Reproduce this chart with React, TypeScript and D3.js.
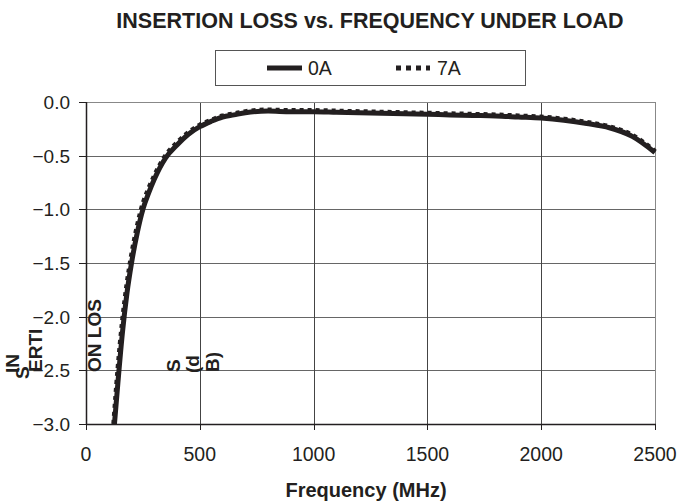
import React from "react";
import * as d3 from "d3";

const title = "INSERTION LOSS vs. FREQUENCY UNDER LOAD";
const xLabel = "Frequency (MHz)";
const seriesNames = ["0A", "7A"];
const xTicks = [0, 500, 1000, 1500, 2000, 2500];
const yTicks = [0, -0.5, -1.0, -1.5, -2.0, -2.5, -3.0];

const freq0A = [125, 140, 160, 180, 200, 225, 250, 275, 300, 350, 400, 450, 500, 550, 600, 650, 700, 800, 900, 1000, 1100, 1200, 1300, 1400, 1500, 1600, 1700, 1800, 1900, 2000, 2100, 2200, 2300, 2400, 2500];
const loss0A = [-3.0, -2.62, -2.15, -1.78, -1.5, -1.22, -1.0, -0.85, -0.72, -0.52, -0.4, -0.3, -0.23, -0.18, -0.14, -0.12, -0.1, -0.085, -0.09, -0.09, -0.095, -0.1, -0.105, -0.11, -0.115, -0.12, -0.125, -0.13, -0.14, -0.15, -0.17, -0.2, -0.24, -0.32, -0.47];
const freq7A = [122, 140, 160, 180, 200, 225, 250, 275, 300, 350, 400, 450, 500, 550, 600, 650, 700, 800, 900, 1000, 1100, 1200, 1300, 1400, 1500, 1600, 1700, 1800, 1900, 2000, 2100, 2200, 2300, 2400, 2500];
const loss7A = [-3.0, -2.5, -2.05, -1.7, -1.43, -1.16, -0.95, -0.81, -0.69, -0.5, -0.38, -0.285, -0.215, -0.17, -0.13, -0.11, -0.09, -0.075, -0.08, -0.08, -0.085, -0.09, -0.095, -0.1, -0.105, -0.11, -0.115, -0.12, -0.13, -0.14, -0.16, -0.19, -0.23, -0.31, -0.46];

// broken y-axis title fragments as they appear in the reference
const yLabelParts = ["IN", "S", "ERTI", "ON LOS", "S", "(d", "B)"];
const yLabelPos: [number, number][] = [[19, 373], [29, 379], [42, 372], [101, 372], [180, 372], [199, 373], [219, 372]];

const W = 679, H = 502;
const L = 86, R = 655, T = 102, B = 424;
const FONT = "'Liberation Sans', Arial, sans-serif";
const INK = "#231f20";

export default function App() {
  const x = d3.scaleLinear().domain([0, 2500]).range([L, R]);
  const y = d3.scaleLinear().domain([-3, 0]).range([B, T]);
  const line = d3.line<[number, number]>().x(d => x(d[0])).y(d => y(d[1])).curve(d3.curveMonotoneX);
  const d0 = line(freq0A.map((f, i) => [f, loss0A[i]]))!;
  const d7 = line(freq7A.map((f, i) => [f, loss7A[i]]))!;

  return (
    <svg width={W} height={H} style={{ position: "absolute", left: 0, top: 0, background: "#fff" }} fontFamily={FONT}>
      <defs>
        <clipPath id="plot"><rect x={L} y={T - 3} width={R - L + 3} height={B - T + 3} /></clipPath>
      </defs>
      <text x={370} y={28} textAnchor="middle" fontSize={21.5} fontWeight="bold" fill={INK}>{title}</text>

      {/* legend */}
      <rect x={215.5} y={50.5} width={310} height={35} fill="#fff" stroke="#555" strokeWidth={1} />
      <line x1={267} x2={302} y1={68} y2={68} stroke={INK} strokeWidth={5} />
      <text x={308} y={75} fontSize={19.5} fill={INK}>{seriesNames[0]}</text>
      <line x1={396} x2={430} y1={68} y2={68} stroke={INK} strokeWidth={5} strokeDasharray="5,5" />
      <text x={437} y={75} fontSize={19.5} fill={INK}>{seriesNames[1]}</text>

      {/* grid */}
      {yTicks.map(t => (
        <line key={"gy" + t} x1={L} x2={R} y1={Math.round(y(t)) + 0.5} y2={Math.round(y(t)) + 0.5} stroke="#666" strokeWidth={1} />
      ))}
      {xTicks.map(t => (
        <line key={"gx" + t} x1={Math.round(x(t)) + 0.5} x2={Math.round(x(t)) + 0.5} y1={T} y2={B} stroke="#444" strokeWidth={1} />
      ))}
      <line x1={R + 0.5} x2={R + 0.5} y1={T} y2={B} stroke="#888" />
      <line x1={L} x2={R} y1={T + 0.5} y2={T + 0.5} stroke="#888" />
      {/* axes */}
      <line x1={L + 0.5} x2={L + 0.5} y1={T} y2={B + 1} stroke={INK} strokeWidth={1.5} />
      <line x1={L} x2={R + 1} y1={B + 0.5} y2={B + 0.5} stroke={INK} strokeWidth={1.5} />
      {yTicks.map(t => (
        <g key={"ty" + t}>
          <line x1={L - 7} x2={L} y1={Math.round(y(t)) + 0.5} y2={Math.round(y(t)) + 0.5} stroke={INK} />
          <text x={70} y={y(t) + 7} textAnchor="end" fontSize={19} fill={INK}>{d3.format(".1f")(t)}</text>
        </g>
      ))}
      {xTicks.map(t => (
        <g key={"tx" + t}>
          <line x1={Math.round(x(t)) + 0.5} x2={Math.round(x(t)) + 0.5} y1={B} y2={B + 6} stroke={INK} />
          <text x={x(t)} y={461} textAnchor="middle" fontSize={19.5} fill={INK}>{t}</text>
        </g>
      ))}

      {/* series */}
      <g clipPath="url(#plot)">
        <path d={d7} fill="none" stroke={INK} strokeWidth={5} strokeDasharray="4,4" />
        <path d={d0} fill="none" stroke={INK} strokeWidth={5} />
      </g>

      <text x={366} y={497} textAnchor="middle" fontSize={20} fontWeight="bold" fill={INK}>{xLabel}</text>
      {yLabelParts.map((s, i) => (
        <text key={"yl" + i} transform={`translate(${yLabelPos[i][0]},${yLabelPos[i][1]}) rotate(-90)`} fontSize={19} fontWeight="bold" fill={INK}>{s}</text>
      ))}
    </svg>
  );
}
